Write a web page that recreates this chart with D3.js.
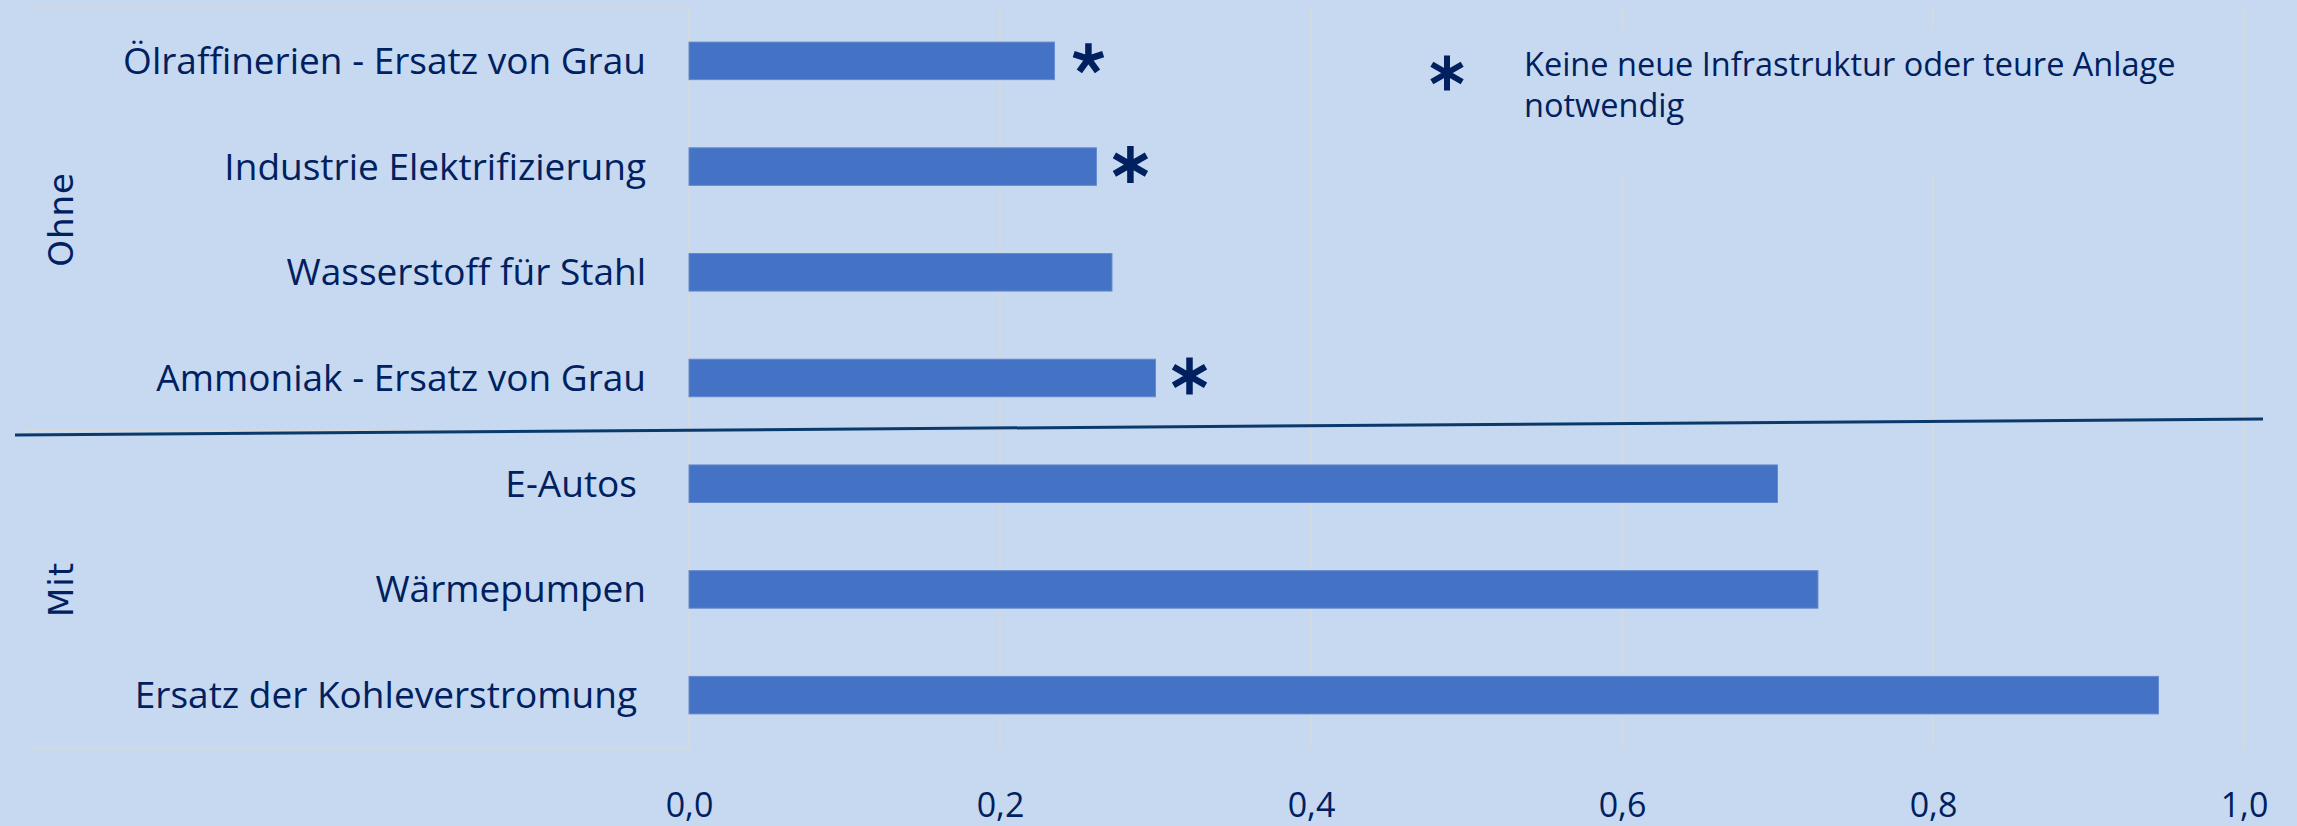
<!DOCTYPE html>
<meta charset="utf-8">
<title>Ohne / Mit</title>
<script src="https://d3js.org/d3.v7.min.js"></script>

<style>
  body {
    margin: 0;
    background-color: #C6D9F0;
  }

  svg {
    display: block;
  }

  text {
    fill: #002060;
  }

  .label {
    font: 37px "Open Sans", sans-serif;
    text-anchor: end;
  }

  .tick text {
    font: 34px "Open Sans", sans-serif;
  }

  .group {
    font: 34px "DejaVu Sans", sans-serif;
    letter-spacing: 1px;
    text-anchor: middle;
  }

  .note {
    font: 32.5px "Open Sans", sans-serif;
  }
</style>

<body>
  <svg width="2297" height="826"></svg>
</body>

<script>
  // data
  var categories = [
    "Ölraffinerien - Ersatz von Grau",
    "Industrie Elektrifizierung",
    "Wasserstoff für Stahl",
    "Ammoniak - Ersatz von Grau",
    "E-Autos",
    "Wärmepumpen",
    "Ersatz der Kohleverstromung"
  ];
  var values = [0.235, 0.262, 0.272, 0.300, 0.700, 0.726, 0.945];
  var groupOf = ["Ohne", "Ohne", "Ohne", "Ohne", "Mit", "Mit", "Mit"];
  var groups = ["Ohne", "Mit"];
  var starred = [true, true, false, true, false, false, false];
  var xTicks = [0, 0.2, 0.4, 0.6, 0.8, 1.0];
  var noteLines = ["Keine neue Infrastruktur oder teure Anlage", "notwendig"];

  var svg = d3.select("svg"),
    plotLeft = 689, plotRight = 2244, plotTop = 8, plotBottom = 748,
    labelLeft = 28;

  var x = d3.scaleLinear().domain([0, 1]).range([plotLeft, plotRight]);

  var y = d3.scaleBand()
    .domain(categories)
    .range([plotTop, plotBottom])
    .paddingInner(0.645)
    .paddingOuter(0.3225);

  var de = d3.formatLocale({ decimal: ",", thousands: ".", grouping: [3], currency: ["", " €"] });
  var fmt = de.format(".1f");

  // vertical gridlines
  svg.append("g")
    .selectAll("line")
    .data(xTicks)
    .enter().append("line")
    .attr("x1", function (d) { return x(d); })
    .attr("x2", function (d) { return x(d); })
    .attr("y1", plotTop)
    .attr("y2", plotBottom)
    .attr("stroke", "#d9d9d9")
    .attr("stroke-width", 1.5);

  // note box covers the gridlines behind it
  svg.append("rect")
    .attr("x", 1400).attr("y", 30)
    .attr("width", 800).attr("height", 143)
    .attr("fill", "#C6D9F0");

  // bars
  svg.append("g")
    .selectAll("rect")
    .data(values)
    .enter().append("rect")
    .attr("x", x(0))
    .attr("y", function (d, i) { return y(categories[i]); })
    .attr("width", function (d) { return x(d) - x(0); })
    .attr("height", y.bandwidth())
    .attr("fill", "#4472C4")
    .attr("stroke", "#6489cf")
    .attr("stroke-width", 1);

  // category label area lines (top, between groups, bottom)
  var lastOhne = groupOf.lastIndexOf("Ohne");
  var groupEdge = (y(categories[lastOhne]) + y.bandwidth() + y(categories[lastOhne + 1])) / 2;
  svg.append("g")
    .selectAll("line")
    .data([plotTop, groupEdge, plotBottom])
    .enter().append("line")
    .attr("x1", labelLeft)
    .attr("x2", x(0))
    .attr("y1", function (d) { return d; })
    .attr("y2", function (d) { return d; })
    .attr("stroke", "#d9d9d9")
    .attr("stroke-width", 1.5);

  // category labels
  svg.append("g")
    .selectAll("text")
    .data(categories)
    .enter().append("text")
    .attr("class", "label")
    .attr("x", function (d) { return x(0) - (d === "E-Autos" || d === "Ersatz der Kohleverstromung" ? 52 : 43); })
    .attr("y", function (d) { return y(d) + y.bandwidth() / 2 + 13; })
    .text(function (d) { return d; });

  // group labels
  var groupSpan = { Ohne: [plotTop, groupEdge], Mit: [groupEdge, plotBottom] };
  svg.append("g")
    .selectAll("text")
    .data(groups)
    .enter().append("text")
    .attr("class", "group")
    .attr("transform", function (d) {
      var c = (groupSpan[d][0] + groupSpan[d][1]) / 2;
      return "translate(73," + c + ") rotate(-90)";
    })
    .text(function (d) { return d; });

  // x axis tick labels
  var xAxis = d3.axisBottom(x)
    .tickValues(xTicks)
    .tickFormat(fmt)
    .tickSize(0)
    .tickPadding(0);

  var axisG = svg.append("g")
    .attr("transform", "translate(0,817)")
    .call(xAxis);
  axisG.select(".domain").remove();
  axisG.selectAll(".tick text")
    .attr("dy", 0)
    .attr("y", 0)
    .attr("fill", "#002060");

  // asterisk markers
  function asterisk(arms) {
    return {
      draw: function (context, size) {
        var r = Math.sqrt(size);
        for (var k = 0; k < arms; k++) {
          var a = -Math.PI / 2 + k * 2 * Math.PI / arms;
          context.moveTo(0, 0);
          context.lineTo(r * Math.cos(a), r * Math.sin(a));
        }
      }
    };
  }

  var starIdx = d3.range(categories.length).filter(function (i) { return starred[i]; });
  svg.append("g")
    .selectAll("path")
    .data(starIdx)
    .enter().append("path")
    .attr("transform", function (i) {
      return "translate(" + (x(values[i]) + 34) + "," + (y(categories[i]) + y.bandwidth() / 2 - 2) + ")";
    })
    .attr("d", function (i) {
      return i === 0
        ? d3.symbol().type(asterisk(5)).size(15.5 * 15.5)()
        : d3.symbol().type(asterisk(6)).size(18.5 * 18.5)();
    })
    .attr("fill", "none")
    .attr("stroke", "#002060")
    .attr("stroke-width", 6.5);

  // note
  svg.append("path")
    .attr("transform", "translate(1447,73)")
    .attr("d", d3.symbol().type(asterisk(6)).size(17.5 * 17.5)())
    .attr("fill", "none")
    .attr("stroke", "#002060")
    .attr("stroke-width", 6);

  svg.append("g")
    .selectAll("text")
    .data(noteLines)
    .enter().append("text")
    .attr("class", "note")
    .attr("x", 1524)
    .attr("y", function (d, i) { return 76 + i * 41; })
    .text(function (d) { return d; });

  // divider between the two groups
  svg.append("line")
    .attr("x1", 15).attr("y1", 435)
    .attr("x2", 2263).attr("y2", 419)
    .attr("stroke", "#0a3a6b")
    .attr("stroke-width", 3);
</script>
